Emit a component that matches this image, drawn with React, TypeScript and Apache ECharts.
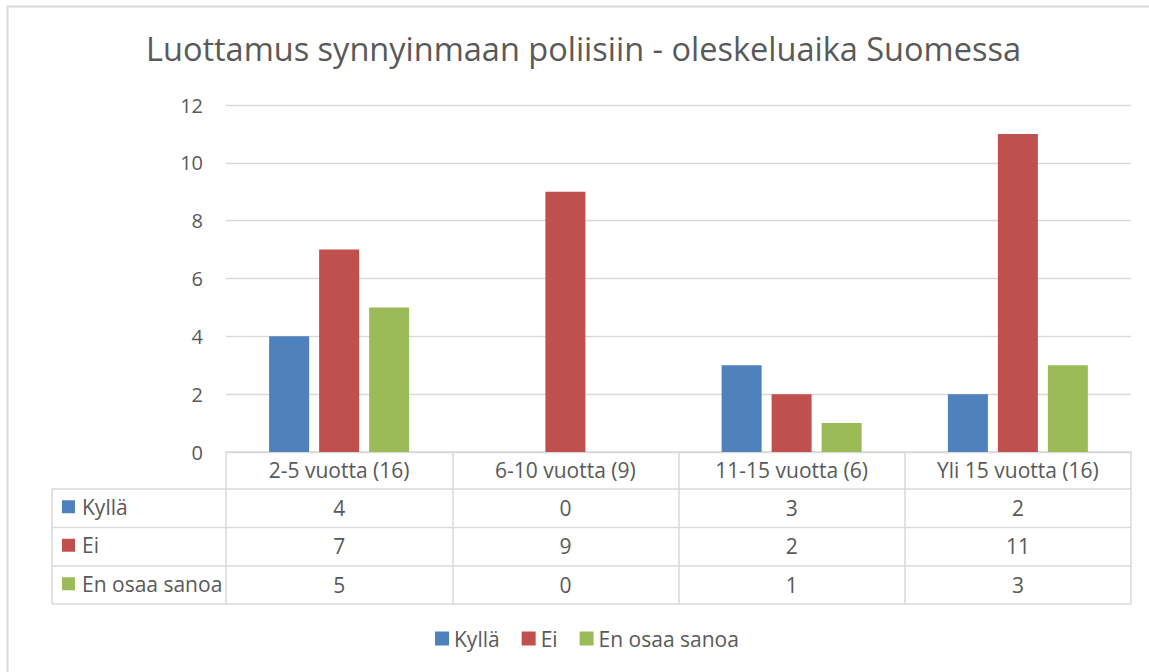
import React, { useEffect, useRef } from "react";
import * as echarts from "echarts";

const title = "Luottamus synnyinmaan poliisiin - oleskeluaika Suomessa";
const categories = ["2-5 vuotta (16)", "6-10 vuotta (9)", "11-15 vuotta (6)", "Yli 15 vuotta (16)"];
const seriesNames = ["Kyllä", "Ei", "En osaa sanoa"];
const kylla = [4, 0, 3, 2];
const ei = [7, 9, 2, 11];
const enOsaaSanoa = [5, 0, 1, 3];
const colors = ["#4F81BD", "#C0504D", "#9BBB59"];
const yMin = 0;
const yMax = 12;
const yInterval = 2;

const FONT = "Open Sans";
const TXT = "#595959";
const LINE = "#D9D9D9";
const FS = 21;

export default function App() {
  const ref = useRef<HTMLDivElement>(null);
  useEffect(() => {
    document.body.style.margin = "0";
    const chart = echarts.init(ref.current!, null, { renderer: "svg" });
    const values = [kylla, ei, enOsaaSanoa];
    const rowTops = [489, 527.5, 566];
    const tableLeft = 52;
    const tableRight = 1131;
    const tableBottom = 604;

    const valueAxes = values.map((vals, i) => ({
      type: "category" as const,
      gridIndex: 0,
      position: "bottom" as const,
      offset: rowTops[i] - 452,
      data: categories,
      axisLine: { show: false },
      axisTick: { show: false },
      splitLine: { show: false },
      axisLabel: {
        margin: 8,
        color: TXT,
        fontFamily: FONT,
        fontSize: FS,
        formatter: (_v: string, idx: number) => String(vals[idx]),
      },
    }));

    const rowLegends = seriesNames.map((name, i) => ({
      data: [name],
      orient: "vertical" as const,
      left: 62,
      top: rowTops[i] + 19.25 - 12,
      padding: 0,
      itemWidth: 13,
      itemHeight: 13,
      itemGap: 6,
      icon: "rect",
      textStyle: { color: TXT, fontFamily: FONT, fontSize: FS, padding: [0, 0, 0, 2] },
    }));

    const hLines = [489, 527.5, 566, tableBottom].map((y) => ({
      type: "line",
      shape: { x1: tableLeft, y1: y, x2: tableRight, y2: y },
      style: { stroke: LINE, lineWidth: 1.5 },
    }));

    chart.setOption({
      animation: false,
      color: colors,
      title: {
        text: title,
        left: 141,
        top: 27,
        textStyle: { color: TXT, fontFamily: FONT, fontSize: 32.5, fontWeight: "normal" },
      },
      legend: [
        {
          data: seriesNames,
          left: 435,
          top: 628,
          padding: 0,
          itemWidth: 14,
          itemHeight: 14,
          itemGap: 22,
          icon: "rect",
          textStyle: { color: TXT, fontFamily: FONT, fontSize: FS },
        },
        ...rowLegends,
      ],
      grid: { left: 226, right: 18, top: 105, bottom: 672 - 452, containLabel: false },
      xAxis: [
        {
          type: "category",
          data: categories,
          position: "bottom",
          axisLine: { lineStyle: { color: LINE, width: 1.5 } },
          axisTick: { show: true, length: tableBottom - 452, lineStyle: { color: LINE, width: 1.5 } },
          axisLabel: { margin: 7, color: TXT, fontFamily: FONT, fontSize: FS },
        },
        ...valueAxes,
      ],
      yAxis: {
        type: "value",
        min: yMin,
        max: yMax,
        interval: yInterval,
        axisLine: { show: false },
        axisTick: { show: false },
        splitLine: { lineStyle: { color: LINE, width: 1.3 } },
        axisLabel: { margin: 23, color: TXT, fontFamily: FONT, fontSize: 20 },
      },
      series: values.map((vals, i) => ({
        name: seriesNames[i],
        type: "bar",
        xAxisIndex: 0,
        data: vals,
        barWidth: 40,
        barGap: "25%",
        itemStyle: { color: colors[i] },
      })),
      graphic: [
        {
          type: "rect",
          shape: { x: 7.5, y: 6.5, width: 1300, height: 800 },
          style: { fill: "none", stroke: LINE, lineWidth: 2 },
          silent: true,
        },
        ...hLines,
        {
          type: "line",
          shape: { x1: tableLeft, y1: 489, x2: tableLeft, y2: tableBottom },
          style: { stroke: LINE, lineWidth: 1.5 },
        },
      ],
    });
    return () => chart.dispose();
  }, []);
  return <div ref={ref} style={{ width: 1149, height: 672 }} />;
}
